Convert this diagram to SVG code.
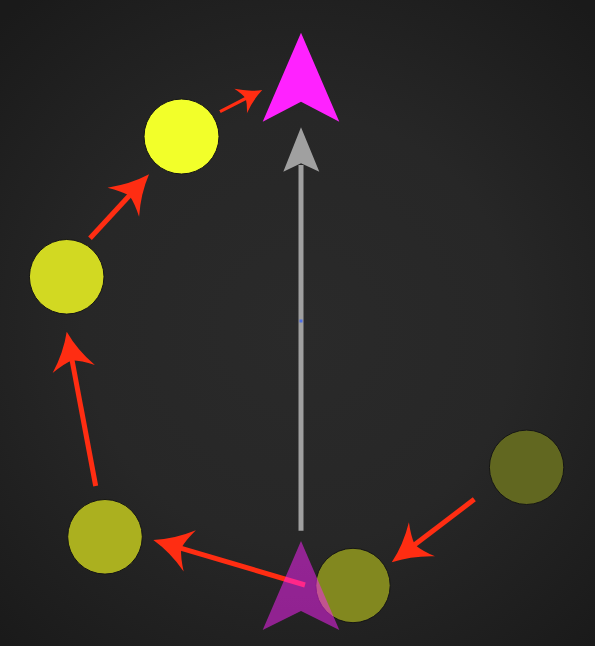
<svg xmlns="http://www.w3.org/2000/svg" width="595" height="646" viewBox="0 0 595 646">
  <defs>
    <radialGradient id="bg" cx="300" cy="330" r="430" gradientUnits="userSpaceOnUse">
      <stop offset="0" stop-color="#2a2a2a"/>
      <stop offset="0.5" stop-color="#272727"/>
      <stop offset="1" stop-color="#1a1a1a"/>
    </radialGradient>
    <marker id="ah" markerUnits="strokeWidth" orient="auto" refX="-5.5" refY="0" markerWidth="12" markerHeight="12" overflow="visible">
      <path d="M0,0 Q-4,-1.4 -7.6,-4.3 Q-6.2,-1.8 -5.8,0 Q-6.2,1.8 -7.6,4.3 Q-4,1.4 0,0 Z" fill="#ff2d12"/>
    </marker>
    <style>
      .node { stroke: #151515; stroke-width: 1; }
      .conn { stroke: #ff2d12; fill: none; stroke-linecap: butt; marker-end: url(#ah); }
    </style>
  </defs>
  <rect x="0" y="0" width="595" height="646" fill="url(#bg)"/>

  <g id="target-arrow">
    <polygon points="301,32.7 339.3,121.7 301,101.7 262.7,121.7" fill="#ff22ff"/>
  </g>

  <g id="heading">
    <line x1="301" y1="530.7" x2="301" y2="165" stroke="#a0a0a0" stroke-width="5"/>
    <polygon points="301,127.3 319.3,171.7 301,163.3 283.3,171.7" fill="#a0a0a0"/>
    <rect x="299.5" y="319.5" width="3" height="3" fill="#4f6fe6"/>
  </g>

  <g id="node-1"><circle class="node" cx="181.5" cy="136.5" r="37.5" fill="#f2ff2a"/></g>
  <g id="node-2"><circle class="node" cx="66.7" cy="276.8" r="37.3" fill="#d2d922"/></g>
  <g id="node-3"><circle class="node" cx="105" cy="536.8" r="37.3" fill="#abb01f"/></g>
  <g id="node-4"><circle class="node" cx="353" cy="585.5" r="37.2" fill="#82881f"/></g>
  <g id="node-5"><circle class="node" cx="526.6" cy="467.3" r="37.2" fill="#616720"/></g>

  <g id="connectors">
    <line class="conn" x1="220" y1="111.7" x2="246.6" y2="98" stroke-width="3.2"/>
    <line class="conn" x1="90" y1="238.3" x2="130.4" y2="194.5" stroke-width="5"/>
    <line class="conn" x1="95.7" y1="486" x2="71.8" y2="358.7" stroke-width="5"/>
    <line class="conn" x1="305" y1="585" x2="179.7" y2="547.8" stroke-width="5"/>
    <line class="conn" x1="474.3" y1="499.3" x2="413.6" y2="545.6" stroke-width="5"/>
  </g>

  <g id="start-arrow">
    <polygon points="301,541 339.3,630 301,611 262.7,630" fill="#ff22ff" fill-opacity="0.5"/>
  </g>
</svg>
